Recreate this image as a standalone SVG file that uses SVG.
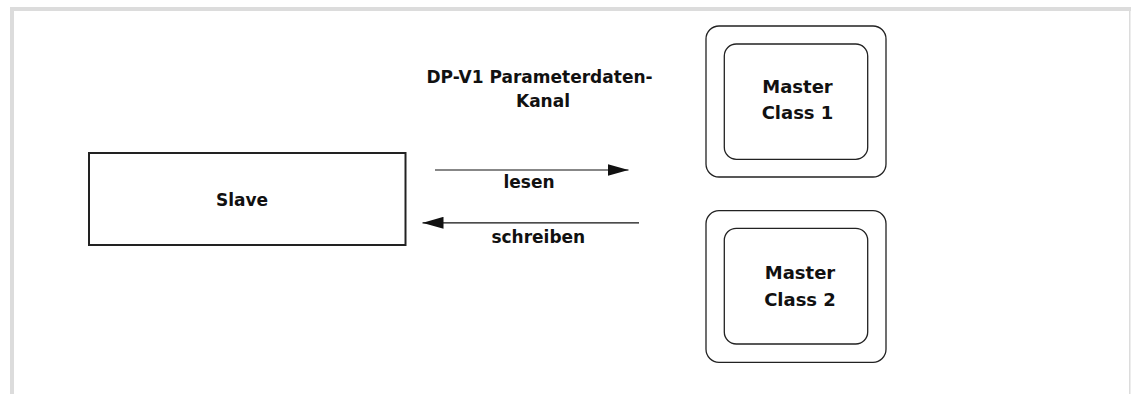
<svg xmlns="http://www.w3.org/2000/svg" width="1131" height="394" viewBox="0 0 1131 394">
<style>
.t{font-family:"DejaVu Sans","Liberation Sans",sans-serif;font-weight:bold;fill:#111;font-size:17px}
.m{font-size:18px;text-anchor:middle}
.box{fill:#fff;stroke:#222}
.conn{stroke:#111;stroke-width:1.2;fill:none}
</style>
<defs>
<marker id="ah" viewBox="0 0 21 12" refX="21" refY="6" markerWidth="21" markerHeight="12" markerUnits="userSpaceOnUse" orient="auto">
<path d="M0,0 L21,6 L0,12 Z" fill="#111"/>
</marker>
</defs>
<rect x="0" y="0" width="1131" height="394" fill="#fff"/>
<g id="frame">
<rect x="10" y="7" width="1121" height="4" fill="#dcdcdc"/>
<rect x="10" y="7" width="4" height="387" fill="#dcdcdc"/>
<rect x="1129" y="11" width="1.5" height="383" fill="#dcdcdc"/>
</g>
<g id="slave">
<rect class="box" x="89" y="153" width="316.5" height="92" stroke-width="2"/>
<text class="t" x="242" y="205.5" text-anchor="middle">Slave</text>
</g>
<g id="master1">
<rect class="box" x="706" y="26" width="180" height="151" rx="13" stroke-width="1.3"/>
<rect class="box" x="724.3" y="44" width="143.4" height="115.3" rx="12" stroke-width="1.3"/>
<text class="t m" x="797.5" y="92.7">Master</text>
<text class="t m" x="797.5" y="119.3">Class 1</text>
</g>
<g id="master2">
<rect class="box" x="706" y="210.7" width="180" height="151.6" rx="13" stroke-width="1.3"/>
<rect class="box" x="724.3" y="228.3" width="143.4" height="115.7" rx="12" stroke-width="1.3"/>
<text class="t m" x="800" y="279">Master</text>
<text class="t m" x="800" y="305.7">Class 2</text>
</g>
<g id="channel-label">
<text class="t" x="426.5" y="82.7">DP-V1 Parameterdaten-</text>
<text class="t" x="543" y="106.7" text-anchor="middle">Kanal</text>
</g>
<g id="connectors">
<line class="conn" x1="435" y1="170" x2="628.5" y2="170" marker-end="url(#ah)"/>
<text class="t" x="529" y="188.3" text-anchor="middle">lesen</text>
<line class="conn" x1="639" y1="222.8" x2="422.5" y2="222.8" marker-end="url(#ah)"/>
<text class="t" x="538.3" y="242.7" text-anchor="middle">schreiben</text>
</g>
</svg>
